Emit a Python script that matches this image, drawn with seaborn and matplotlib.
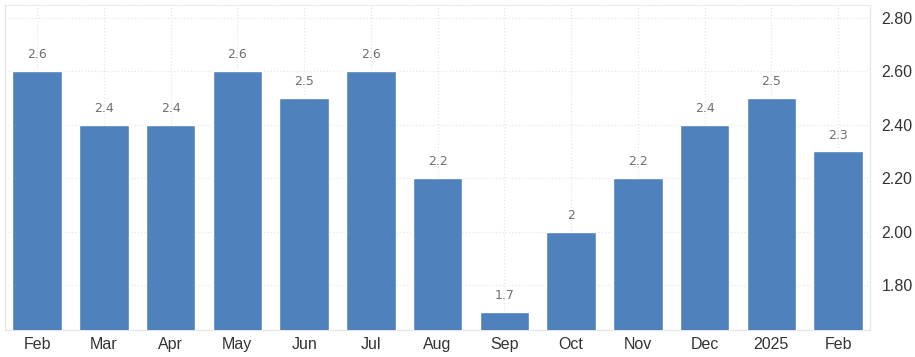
import matplotlib
matplotlib.use("Agg")
import matplotlib.pyplot as plt
import seaborn as sns
import pandas as pd

months = ["Feb", "Mar", "Apr", "May", "Jun", "Jul", "Aug", "Sep", "Oct", "Nov", "Dec", "2025", "Feb"]
values = [2.6, 2.4, 2.4, 2.6, 2.5, 2.6, 2.2, 1.7, 2.0, 2.2, 2.4, 2.5, 2.3]
labels = ["2.6", "2.4", "2.4", "2.6", "2.5", "2.6", "2.2", "1.7", "2", "2.2", "2.4", "2.5", "2.3"]
yticks = [1.8, 2.0, 2.2, 2.4, 2.6, 2.8]

df = pd.DataFrame({"pos": range(len(months)), "value": values})

sns.set_style("white")
plt.rcParams["font.family"] = ["Liberation Sans", "DejaVu Sans"]

fig = plt.figure(figsize=(9.15, 3.57), dpi=100)
ax = fig.add_axes([0.0055, 0.0756, 0.9455, 0.91])

sns.barplot(data=df, x="pos", y="value", color="#4f81bd", saturation=1,
            width=0.74, ax=ax, zorder=3)

ax.set_ylim(1.632, 2.847)
ax.set_xlim(-0.48, 12.48)
ax.set_yticks(yticks)
ax.set_yticklabels([f"{t:.2f}" for t in yticks])
ax.set_xticks(range(len(months)))
ax.set_xticklabels(months)
ax.yaxis.tick_right()
ax.set_xlabel("")
ax.set_ylabel("")

ax.grid(True, color="#e6e6e6", linestyle=":", linewidth=0.9, zorder=0)
ax.tick_params(axis="both", length=0, labelsize=11.5, colors="#333333")
ax.tick_params(axis="y", pad=8)
ax.tick_params(axis="x", pad=5)

for side in ["left", "right", "bottom", "top"]:
    ax.spines[side].set_color("#e6e6e6")
    ax.spines[side].set_linewidth(0.9)
ax.spines["top"].set_linestyle(":")

ax.bar_label(ax.containers[0], labels=labels, padding=7, fontsize=9,
             color="#707070", family="DejaVu Sans")

plt.savefig("out.png", dpi=100)
plt.close()
